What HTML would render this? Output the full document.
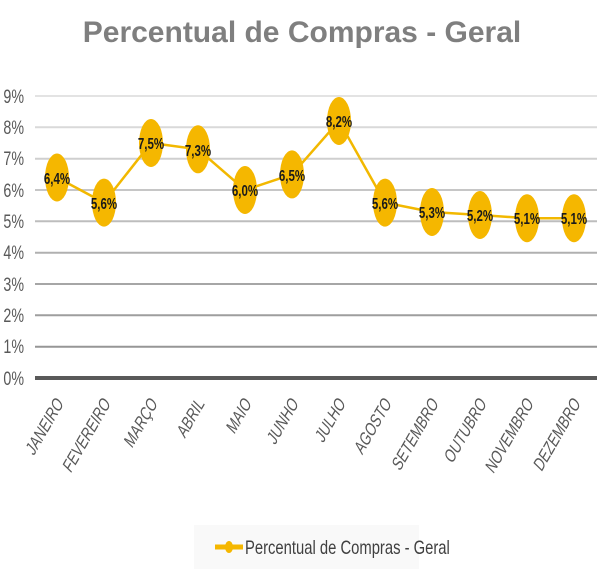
<!DOCTYPE html>
<html><head><meta charset="utf-8"><style>body{margin:0;background:#fff}</style></head><body>
<svg width="605" height="573" xmlns="http://www.w3.org/2000/svg" font-family="Liberation Sans, sans-serif">
<text x="302" y="42" text-anchor="middle" font-size="30" font-weight="bold" fill="#7f7f7f">Percentual de Compras  - Geral</text>
<g stroke-width="2">
<line x1="35" x2="597" y1="96" y2="96" stroke="#e3e3e3"/>
<line x1="35" x2="597" y1="127.3" y2="127.3" stroke="#d9d9d9"/>
<line x1="35" x2="597" y1="158.7" y2="158.7" stroke="#cfcfcf"/>
<line x1="35" x2="597" y1="190" y2="190" stroke="#c6c6c6"/>
<line x1="35" x2="597" y1="221.3" y2="221.3" stroke="#bdbdbd"/>
<line x1="35" x2="597" y1="252.7" y2="252.7" stroke="#b0b0b0"/>
<line x1="35" x2="597" y1="284" y2="284" stroke="#a6a6a6"/>
<line x1="35" x2="597" y1="315.3" y2="315.3" stroke="#9e9e9e"/>
<line x1="35" x2="597" y1="346.7" y2="346.7" stroke="#969696"/>
</g>
<line x1="35" x2="597" y1="378" y2="378" stroke="#595959" stroke-width="4"/>
<g font-size="19" fill="#595959" text-anchor="end" transform="scale(0.75,1)">
<text x="32" y="103">9%</text><text x="32" y="134">8%</text><text x="32" y="165">7%</text><text x="32" y="197">6%</text><text x="32" y="228">5%</text><text x="32" y="259">4%</text><text x="32" y="291">3%</text><text x="32" y="322">2%</text><text x="32" y="353">1%</text><text x="32" y="385">0%</text>
</g>
<polyline fill="none" stroke="#f2b800" stroke-width="2.5" points="57,177.5 104,202.6 151,143 198,149.3 245,190 292,174.4 339,121 385,202.6 432,212 480,215 527,218.2 574,218.2"/>
<g fill="#f5b700">
<ellipse cx="57" cy="177.5" rx="12" ry="24"/><ellipse cx="104" cy="202.6" rx="12" ry="24"/><ellipse cx="151" cy="143" rx="12" ry="24"/><ellipse cx="198" cy="149.3" rx="12" ry="24"/><ellipse cx="245" cy="190" rx="12" ry="24"/><ellipse cx="292" cy="174.4" rx="12" ry="24"/><ellipse cx="339" cy="121" rx="12" ry="24"/><ellipse cx="385" cy="202.6" rx="12" ry="24"/><ellipse cx="432" cy="212" rx="12" ry="24"/><ellipse cx="480" cy="215" rx="12" ry="24"/><ellipse cx="527" cy="218.2" rx="12" ry="24"/><ellipse cx="574" cy="218.2" rx="12" ry="24"/>
</g>
<g font-size="16" font-weight="bold" fill="#1a1a1a" text-anchor="middle">
<text transform="translate(57,184) scale(0.72,1)">6,4%</text>
<text transform="translate(104,209) scale(0.72,1)">5,6%</text>
<text transform="translate(151,149) scale(0.72,1)">7,5%</text>
<text transform="translate(198,156) scale(0.72,1)">7,3%</text>
<text transform="translate(245,196) scale(0.72,1)">6,0%</text>
<text transform="translate(292,181) scale(0.72,1)">6,5%</text>
<text transform="translate(339,127) scale(0.72,1)">8,2%</text>
<text transform="translate(385,209) scale(0.72,1)">5,6%</text>
<text transform="translate(432,218) scale(0.72,1)">5,3%</text>
<text transform="translate(480,221) scale(0.72,1)">5,2%</text>
<text transform="translate(527,224) scale(0.72,1)">5,1%</text>
<text transform="translate(574,224) scale(0.72,1)">5,1%</text>
</g>
<g font-size="17" fill="#595959" text-anchor="end">
<text transform="translate(64,404) rotate(-60) skewX(-14) scale(0.82,1)">JANEIRO</text>
<text transform="translate(111,404) rotate(-60) skewX(-14) scale(0.82,1)">FEVEREIRO</text>
<text transform="translate(158,404) rotate(-60) skewX(-14) scale(0.82,1)">MARÇO</text>
<text transform="translate(205,404) rotate(-60) skewX(-14) scale(0.82,1)">ABRIL</text>
<text transform="translate(252,404) rotate(-60) skewX(-14) scale(0.82,1)">MAIO</text>
<text transform="translate(299,404) rotate(-60) skewX(-14) scale(0.82,1)">JUNHO</text>
<text transform="translate(346,404) rotate(-60) skewX(-14) scale(0.82,1)">JULHO</text>
<text transform="translate(392,404) rotate(-60) skewX(-14) scale(0.82,1)">AGOSTO</text>
<text transform="translate(439,404) rotate(-60) skewX(-14) scale(0.82,1)">SETEMBRO</text>
<text transform="translate(487,404) rotate(-60) skewX(-14) scale(0.82,1)">OUTUBRO</text>
<text transform="translate(534,404) rotate(-60) skewX(-14) scale(0.82,1)">NOVEMBRO</text>
<text transform="translate(581,404) rotate(-60) skewX(-14) scale(0.82,1)">DEZEMBRO</text>
</g>
<rect x="194" y="525" width="225" height="44" fill="#f9f9f9"/>
<line x1="215" x2="243" y1="547" y2="547" stroke="#f5b700" stroke-width="5"/>
<ellipse cx="229" cy="547" rx="4" ry="6" fill="#f5b700"/>
<text transform="translate(245,554) scale(0.78,1)" font-size="19" fill="#404040">Percentual de Compras - Geral</text>
</svg>
</body></html>
